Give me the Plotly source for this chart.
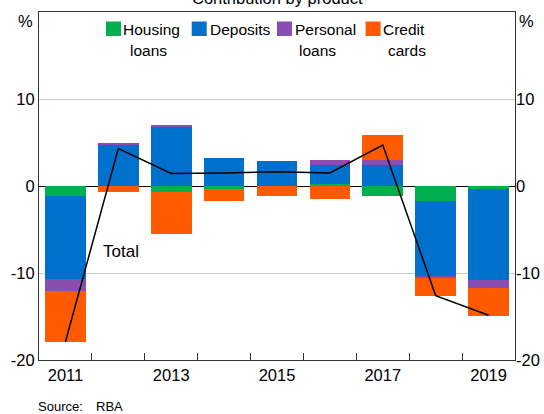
import plotly.graph_objects as go

# ---- data ----
years = [2011, 2012, 2013, 2014, 2015, 2016, 2017, 2018, 2019]
housing = [-1.1, 0.0, -0.65, -0.35, 0.0, 0.25, -1.15, -1.7, -0.3]
deposits = [-9.6, 4.7, 6.8, 3.25, 2.85, 2.2, 2.4, -8.6, -10.55]
personal = [-1.35, 0.27, 0.2, 0.0, 0.0, 0.57, 0.57, -0.27, -0.84]
credit = [-5.9, -0.65, -4.85, -1.37, -1.2, -1.55, 2.85, -2.05, -3.25]
total = [-17.9, 4.3, 1.45, 1.5, 1.65, 1.5, 4.7, -12.6, -14.85]

series_names = ["Housing loans", "Deposits", "Personal loans", "Credit cards"]
legend_lines = [["Housing", "loans"], ["Deposits"], ["Personal", "loans"], ["Credit", "cards"]]
colors = ["#00b050", "#0070cd", "#8a4db0", "#ff5a00"]
x_labels = ["2011", "2013", "2015", "2017", "2019"]
x_label_vals = [2011, 2013, 2015, 2017, 2019]
y_ticks = [-20, -10, 0, 10]
y_tick_text = ["-20", "-10", "0", "10"]

FONT = "Arial, Liberation Sans, sans-serif"
W, H = 544, 414
L, R, T, B = 39, 29, 12, 54
PW, PH = W - L - R, H - T - B


def px(xp):
    return (xp - L) / PW


def py(yp):
    return 1 - (yp - T) / PH


fig = go.Figure()
for name, vals, col in zip(series_names, [housing, deposits, personal, credit], colors):
    fig.add_trace(go.Bar(x=years, y=vals, name=name, marker=dict(color=col, line=dict(width=0)),
                         width=0.77, showlegend=False))

fig.add_trace(go.Scatter(x=years, y=total, mode="lines", line=dict(color="black", width=1.5),
                         name="Total", showlegend=False, yaxis="y2"))

axis_col = "#333333"
fig.update_layout(
    width=W, height=H,
    margin=dict(l=L, r=R, t=T, b=B, autoexpand=False),
    paper_bgcolor="white", plot_bgcolor="white",
    barmode="relative", bargap=0,
    font=dict(family=FONT, size=16.5, color="black"),
    xaxis=dict(
        range=[2010.5, 2019.5], tickvals=x_label_vals, ticktext=x_labels, ticks="",
        showgrid=False, zeroline=False, showline=True, linecolor=axis_col, linewidth=1, mirror=True,
        tickfont=dict(size=16.5),
        minor=dict(tickvals=[y + 0.5 for y in years[:-1]], ticks="inside", ticklen=7,
                   tickcolor=axis_col, tickwidth=1, showgrid=False),
    ),
    yaxis=dict(
        range=[-20, 20], tickvals=y_ticks, ticktext=y_tick_text, ticks="", showgrid=True,
        gridcolor="#cccccc", gridwidth=1,
        zeroline=True, zerolinecolor="black", zerolinewidth=1,
        showline=True, linecolor=axis_col, linewidth=1, mirror=True, tickfont=dict(size=16.5),
    ),
    yaxis2=dict(
        range=[-20, 20], tickvals=y_ticks, ticktext=y_tick_text, ticks="", overlaying="y", side="right",
        showgrid=False, zeroline=False, showline=False, tickfont=dict(size=16.5),
    ),
)

ann = []
ann.append(dict(text="Contribution by product", x=0.5, y=py(9), xref="paper", yref="paper",
                xanchor="center", yanchor="bottom", showarrow=False, font=dict(size=16.5)))
ann.append(dict(text="%", x=px(35), y=py(21), xref="paper", yref="paper", xanchor="right",
                yanchor="middle", showarrow=False, font=dict(size=16.5)))
ann.append(dict(text="%", x=px(517), y=py(21), xref="paper", yref="paper", xanchor="left",
                yanchor="middle", showarrow=False, font=dict(size=16.5)))
ann.append(dict(text="Total", x=2012.05, y=-7.5, xref="x", yref="y", xanchor="center",
                yanchor="middle", showarrow=False, font=dict(size=17)))
ann.append(dict(text="Source:", x=px(35.5), y=py(406), xref="paper", yref="paper", xanchor="left",
                yanchor="middle", showarrow=False, font=dict(size=13)))
ann.append(dict(text="RBA", x=px(93.5), y=py(406), xref="paper", yref="paper", xanchor="left",
                yanchor="middle", showarrow=False, font=dict(size=13)))

# legend (manual)
sq_left = [106, 191.7, 277, 365.6]
text_left = [[123.3, 130], [210], [294.5, 298.6], [383, 388]]
line_y = [30, 50]
shapes = []
for i in range(4):
    shapes.append(dict(type="rect", xref="paper", yref="paper", x0=px(sq_left[i]), x1=px(sq_left[i] + 15),
                       y0=py(36), y1=py(21.5), fillcolor=colors[i], line=dict(width=0)))
    for j, t in enumerate(legend_lines[i]):
        ann.append(dict(text=t, x=px(text_left[i][j] - 2), y=py(line_y[j]), xref="paper", yref="paper",
                        xanchor="left", yanchor="middle", showarrow=False, font=dict(size=15.5)))

fig.update_layout(annotations=ann, shapes=shapes)
fig.write_html("out.html", config={"displayModeBar": False},
               post_script="document.body.style.margin='0';document.body.style.overflow='hidden';")
